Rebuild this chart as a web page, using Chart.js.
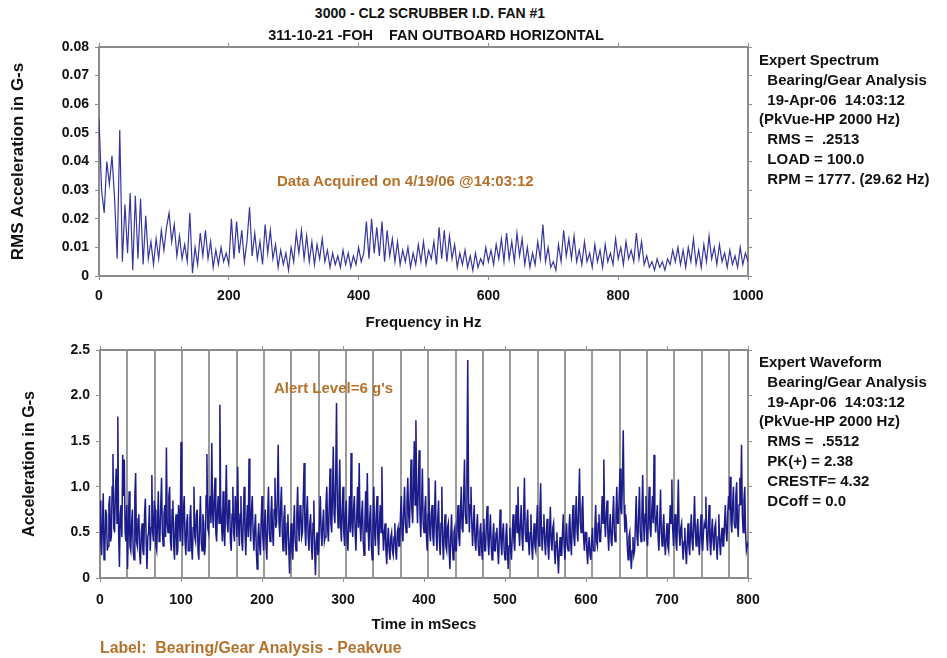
<!DOCTYPE html>
<html>
<head>
<meta charset="utf-8">
<script src="https://cdn.jsdelivr.net/npm/chart.js@4"></script>
<style>
  html, body { margin: 0; padding: 0; background: #fff; }
  #wrap { position: relative; width: 947px; height: 658px; overflow: hidden; background: #fff;
          font-family: "Liberation Sans", Arial, sans-serif; font-weight: bold; color: #111; }
  canvas { position: absolute; left: 0; }
  .t { position: absolute; white-space: pre; font-size: 15px; line-height: 18px; }
  .c { transform: translate(-50%, -50%); }
  .m { transform: translateY(-50%); }
  .or { color: #b5712a; }
</style>
</head>
<body>
<div id="wrap">
  <canvas id="c1" width="790" height="300" style="top:40px;"></canvas>
  <canvas id="c2" width="790" height="310" style="top:330px;"></canvas>
  <div class="t c" style="left:430px; top:13px; font-size:14px;">3000 - CL2 SCRUBBER I.D. FAN #1</div>
  <div class="t c" style="left:436px; top:35px; font-size:14.5px;">311-10-21 -FOH    FAN OUTBOARD HORIZONTAL</div>
  <div class="t m or" style="left:277px; top:181px;">Data Acquired on 4/19/06 @14:03:12</div>
  <div class="t m or" style="left:274px; top:388px;">Alert Level=6 g's</div>
  <div class="t m or" style="left:100px; top:648px; font-size:15.8px;">Label:  Bearing/Gear Analysis - Peakvue</div>
  <div id="p1"></div>
  <div id="p2"></div>
</div>
<script>
// ---------- data ----------
const spectrumHzStep = 4;          // Hz between spectrum lines
const spectrumValues = [
 0.055,0.03,0.022,0.04,0.032,0.042,0.027,0.006,0.051,0.005,
 0.025,0.008,0.029,0.002,0.028,0.006,0.027,0.004,0.021,0.006,
 0.012,0.004,0.013,0.006,0.016,0.009,0.017,0.022,0.012,0.018,
 0.007,0.014,0.006,0.011,0.005,0.022,0.001,0.01,0.004,0.015,
 0.007,0.016,0.006,0.012,0.003,0.009,0.004,0.01,0.005,0.008,
 0.004,0.02,0.006,0.019,0.008,0.016,0.005,0.012,0.024,0.007,
 0.015,0.006,0.012,0.004,0.018,0.008,0.016,0.006,0.011,0.003,
 0.009,0.004,0.008,0.002,0.01,0.005,0.015,0.008,0.016,0.006,
 0.014,0.005,0.012,0.004,0.011,0.006,0.013,0.005,0.009,0.003,
 0.008,0.004,0.007,0.003,0.009,0.004,0.008,0.003,0.007,0.004,
 0.01,0.005,0.008,0.019,0.006,0.02,0.008,0.017,0.007,0.019,
 0.005,0.016,0.007,0.013,0.005,0.012,0.004,0.009,0.005,0.01,
 0.003,0.008,0.004,0.011,0.005,0.012,0.004,0.009,0.006,0.012,
 0.004,0.017,0.006,0.016,0.005,0.014,0.006,0.011,0.003,0.008,
 0.004,0.009,0.003,0.007,0.002,0.008,0.003,0.006,0.004,0.01,
 0.005,0.009,0.004,0.011,0.006,0.013,0.005,0.015,0.006,0.012,
 0.005,0.015,0.007,0.013,0.004,0.01,0.003,0.008,0.004,0.012,
 0.006,0.018,0.005,0.01,0.003,0.005,0.002,0.011,0.005,0.016,
 0.007,0.013,0.006,0.014,0.005,0.009,0.004,0.012,0.005,0.008,
 0.003,0.011,0.005,0.009,0.003,0.011,0.005,0.008,0.004,0.013,
 0.006,0.01,0.004,0.012,0.006,0.009,0.005,0.015,0.006,0.012,
 0.004,0.007,0.003,0.005,0.002,0.006,0.003,0.005,0.002,0.006,
 0.004,0.009,0.005,0.01,0.004,0.009,0.003,0.01,0.005,0.013,
 0.004,0.009,0.003,0.011,0.005,0.014,0.006,0.01,0.004,0.011,
 0.005,0.008,0.003,0.009,0.004,0.007,0.003,0.01,0.004,0.008,
 0.005
];

const waveMsStep = 1;              // ms between waveform samples
const waveValues = [
 0.85,0.4,0.25,0.6,0.93,0.2,0.3,0.75,0.7,0.3,
 0.35,0.8,0.9,0.4,0.45,1.0,1.36,0.55,0.5,0.95,
 1.2,0.6,1.77,0.5,0.12,0.7,0.8,0.45,1.35,0.9,
 1.3,0.5,0.4,0.8,0.1,0.55,0.95,0.35,0.3,0.6,
 0.75,0.3,0.2,0.9,1.15,0.4,0.35,0.65,0.7,0.25,
 0.15,0.5,0.6,0.3,0.25,0.7,0.87,0.4,0.1,0.45,
 0.5,0.8,0.3,0.55,1.13,0.5,0.4,0.85,0.75,0.35,
 0.3,0.6,0.95,0.4,0.45,0.8,1.1,0.5,0.35,0.7,
 0.8,0.45,1.43,0.6,0.5,0.9,1.0,0.4,0.3,0.75,
 0.85,0.35,0.2,0.6,0.7,0.25,0.3,0.8,0.65,0.4,
 1.49,0.6,0.35,0.75,0.9,0.4,0.25,0.6,0.7,0.3,
 0.3,0.65,0.8,0.35,0.2,0.55,1.0,0.45,0.4,0.7,
 0.75,0.3,0.2,0.6,0.9,0.4,0.3,0.7,0.6,0.25,
 0.35,0.9,1.36,0.55,0.5,0.8,0.9,0.6,1.48,0.7,
 0.55,0.9,1.1,0.5,0.4,0.75,0.9,0.6,1.9,0.8,
 0.6,0.4,0.95,0.5,0.35,0.8,1.24,0.6,0.5,0.85,
 0.85,0.4,0.3,0.7,1.0,0.5,0.4,0.9,0.75,0.45,
 1.22,0.6,0.35,0.7,0.9,0.4,0.3,0.65,1.0,0.5,
 0.25,0.6,0.8,0.45,1.31,0.6,0.4,0.75,0.9,0.5,
 0.3,0.55,0.7,0.3,0.1,0.45,0.6,0.35,0.25,0.65,
 0.9,0.45,0.3,0.6,0.75,0.35,0.2,0.7,1.0,0.5,
 0.4,0.7,0.9,0.5,0.35,0.75,1.1,0.55,0.6,0.9,
 1.46,0.6,0.45,0.8,1.0,0.5,0.3,0.65,0.8,0.4,
 0.25,0.6,0.7,0.35,0.05,0.4,0.6,0.3,0.2,0.55,
 0.8,0.4,0.3,0.7,1.0,0.55,0.4,0.8,0.75,0.45,
 0.5,0.9,1.26,0.55,0.35,0.7,0.9,0.45,0.3,0.6,
 0.7,0.35,0.2,0.6,0.85,0.3,0.03,0.4,0.5,0.25,
 0.3,0.65,0.9,0.5,0.35,0.6,0.75,0.4,0.45,0.8,
 1.0,0.55,0.4,0.8,1.2,0.6,0.5,0.9,1.44,0.7,
 0.6,1.1,1.92,0.8,0.55,0.9,1.3,0.6,0.4,0.75,
 1.0,0.5,0.35,0.7,0.85,0.4,0.3,0.6,0.9,0.5,
 1.37,0.6,0.45,0.75,0.9,0.5,0.3,0.7,1.0,0.55,
 1.26,0.6,0.4,0.7,0.85,0.4,0.25,0.6,0.95,0.5,
 1.15,0.55,0.3,0.65,0.8,0.35,0.2,0.6,1.0,0.5,
 0.35,0.7,0.9,0.45,0.25,0.6,0.8,0.5,1.22,0.55,
 0.3,0.5,0.6,0.3,0.15,0.4,0.55,0.3,0.2,0.45,
 0.5,0.3,0.25,0.45,0.6,0.3,0.2,0.5,0.55,0.35,
 0.35,0.7,0.9,0.5,0.4,0.75,1.0,0.6,0.5,0.85,
 1.1,0.7,0.55,0.9,1.3,0.75,0.6,1.0,1.5,0.8,
 1.73,0.9,0.6,1.0,1.4,0.7,0.45,0.8,1.2,0.6,
 0.5,0.75,0.9,0.45,0.3,0.7,1.1,0.5,0.4,0.7,
 0.8,0.45,0.35,0.7,1.07,0.5,0.3,0.65,0.85,0.4,
 0.25,0.6,1.0,0.4,0.2,0.5,0.7,0.35,0.3,0.55,
 0.6,0.3,0.1,0.45,0.7,0.35,0.2,0.5,0.55,0.3,
 0.3,0.6,0.8,0.45,0.35,0.7,1.0,0.55,0.5,0.9,
 1.3,0.7,0.6,1.2,2.39,0.9,0.5,0.8,1.0,0.6,
 0.35,0.6,0.8,0.4,0.3,0.55,0.7,0.35,0.25,0.5,
 0.6,0.35,0.2,0.5,0.65,0.3,0.3,0.6,0.79,0.4,
 0.25,0.5,0.7,0.35,0.2,0.45,0.6,0.3,0.3,0.5,
 0.55,0.3,0.15,0.45,0.75,0.4,0.25,0.5,0.6,0.3,
 0.2,0.45,0.6,0.3,0.1,0.35,0.55,0.3,0.2,0.5,
 0.7,0.4,0.3,0.6,0.8,0.5,1.0,0.55,0.35,0.6,
 0.8,0.45,0.3,0.7,1.1,0.5,0.4,0.6,0.75,0.4,
 0.25,0.5,0.7,0.35,0.2,0.45,0.6,0.35,0.3,0.55,
 0.8,0.45,0.35,0.7,1.04,0.5,0.3,0.55,0.7,0.4,
 0.25,0.5,0.65,0.35,0.2,0.5,0.78,0.4,0.3,0.55,
 0.6,0.3,0.15,0.4,0.5,0.25,0.05,0.3,0.45,0.25,
 0.25,0.5,0.7,0.35,0.2,0.45,0.6,0.35,0.3,0.55,
 0.7,0.4,0.25,0.6,0.8,0.45,0.35,0.65,0.9,0.5,
 0.4,0.8,1.2,0.6,0.5,0.75,0.9,0.45,0.3,0.5,
 0.5,0.3,0.15,0.35,0.45,0.25,0.2,0.4,0.55,0.3,
 0.3,0.55,0.8,0.4,0.35,0.6,0.7,0.4,0.4,0.65,
 0.9,0.6,1.3,0.65,0.45,0.7,0.85,0.5,0.3,0.55,
 0.7,0.4,0.35,0.65,0.9,0.5,0.4,0.7,1.0,0.6,
 0.6,0.9,1.2,0.75,0.7,1.1,1.62,0.8,0.5,0.7,
 0.6,0.35,0.2,0.45,0.5,0.25,0.1,0.3,0.45,0.25,
 0.3,0.6,0.9,0.45,0.35,0.7,1.0,0.5,0.4,0.7,
 1.13,0.6,0.4,0.7,0.9,0.45,0.35,0.65,1.0,0.55,
 0.45,0.7,0.9,0.6,1.35,0.7,0.5,0.65,0.8,0.45,
 0.3,0.6,0.97,0.5,0.35,0.55,0.7,0.4,0.25,0.45,
 0.6,0.35,0.3,0.55,0.8,0.6,1.08,0.55,0.35,0.6,
 0.7,0.4,0.3,0.65,1.08,0.5,0.35,0.55,0.6,0.35,
 0.2,0.4,0.55,0.3,0.15,0.4,0.6,0.35,0.25,0.5,
 0.7,0.4,0.3,0.6,0.9,0.5,0.35,0.55,0.65,0.4,
 0.25,0.5,0.7,0.4,0.3,0.5,0.6,0.55,0.89,0.45,
 0.3,0.55,0.8,0.4,0.25,0.5,0.65,0.4,0.3,0.55,
 0.6,0.35,0.2,0.45,0.7,0.4,0.25,0.45,0.55,0.35,
 0.35,0.6,0.8,0.5,0.4,0.7,0.9,0.75,1.11,0.6,
 0.5,0.8,1.0,0.6,0.55,0.9,1.05,0.6,0.45,0.8,
 1.1,0.8,1.46,0.7,0.5,0.85,1.0,0.5,0.3,0.35,
 0.4
];

const rpmHz = 29.62;               // running speed, markers every revolution
const spectrumYTicks = [0, 0.01, 0.02, 0.03, 0.04, 0.05, 0.06, 0.07, 0.08];
const spectrumXTicks = [0, 200, 400, 600, 800, 1000];
const waveYTicks = [0, 0.5, 1.0, 1.5, 2.0, 2.5];
const waveXTicks = [0, 100, 200, 300, 400, 500, 600, 700, 800];

const spectrumInfo = [
  "Expert Spectrum",
  "  Bearing/Gear Analysis",
  "  19-Apr-06  14:03:12",
  "(PkVue-HP 2000 Hz)",
  "  RMS =  .2513",
  "  LOAD = 100.0",
  "  RPM = 1777. (29.62 Hz)"
];
const waveInfo = [
  "Expert Waveform",
  "  Bearing/Gear Analysis",
  "  19-Apr-06  14:03:12",
  "(PkVue-HP 2000 Hz)",
  "  RMS =  .5512",
  "  PK(+) = 2.38",
  "  CRESTF= 4.32",
  "  DCoff = 0.0"
];

// ---------- side panels ----------
function panel(id, lines, top) {
  const el = document.getElementById(id);
  lines.forEach((s, i) => {
    const d = document.createElement('div');
    d.className = 't m';
    d.style.left = '759px';
    d.style.top = (top + i * 19.8) + 'px';
    d.textContent = s;
    el.appendChild(d);
  });
}
panel('p1', spectrumInfo, 60);
panel('p2', waveInfo, 362);

// ---------- charts ----------
const FAM = '"Liberation Sans", Arial, sans-serif';
const TICKFONT = { family: FAM, size: 14, weight: 'bold' };
const XTITLEFONT = { family: FAM, size: 15, weight: 'bold' };
const FRAME = '#8c8c8c';

function fixedTicks(list) {
  return s => { s.ticks = list.map(v => ({ value: v })); };
}
function fitBox(w, h) {
  return s => {
    if (w !== null) s.width = w;
    if (h !== null) s.height = h;
    s.paddingLeft = 0; s.paddingRight = 0; s.paddingTop = 0; s.paddingBottom = 0;
  };
}
function axisBase(extra) {
  return Object.assign({
    type: 'linear',
    border: { display: true, color: FRAME, width: 2 },
    grid: { drawOnChartArea: false, color: FRAME, tickLength: 4, lineWidth: 1 },
  }, extra);
}

const spectrumData = spectrumValues.map((v, i) => ({ x: i * spectrumHzStep, y: v }));
const waveData = waveValues.map((v, i) => ({ x: i * waveMsStep, y: v }));
const periodMs = 1000 / rpmHz;
const markers = [];
for (let t = periodMs; t < 800; t += periodMs) markers.push(t);

new Chart(document.getElementById('c1'), {
  type: 'line',
  data: { datasets: [{ data: spectrumData, borderColor: '#36369e', borderWidth: 1.2,
                       pointRadius: 0, tension: 0, xAxisID: 'x', yAxisID: 'y' }] },
  options: {
    responsive: false, animation: false, devicePixelRatio: 1,
    plugins: { legend: { display: false }, tooltip: { enabled: false } },
    layout: { padding: 0 },
    scales: {
      x: axisBase({ position: 'bottom', min: 0, max: 1000,
        afterBuildTicks: fixedTicks(spectrumXTicks),
        ticks: { font: TICKFONT, color: '#111', padding: 8, maxRotation: 0, callback: v => String(v) },
        title: { display: true, text: 'Frequency in Hz', font: XTITLEFONT, color: '#111', padding: { top: 0, bottom: 8 } },
        afterFit: fitBox(null, 64) }),
      xTop: axisBase({ position: 'top', min: 0, max: 1000,
        afterBuildTicks: fixedTicks(spectrumXTicks),
        ticks: { display: false },
        afterFit: fitBox(null, 7) }),
      y: axisBase({ position: 'left', min: 0, max: 0.08,
        afterBuildTicks: fixedTicks(spectrumYTicks),
        ticks: { font: TICKFONT, color: '#111', padding: 6,
                 callback: v => v === 0 ? '0' : v.toFixed(2) },
        title: { display: true, text: 'RMS Acceleration in G-s', font: { family: FAM, size: 17, weight: 'bold' },
                 color: '#111', padding: { top: 8, bottom: 0 } },
        afterFit: fitBox(99, null) }),
      yRight: axisBase({ position: 'right', min: 0, max: 0.08,
        afterBuildTicks: fixedTicks(spectrumYTicks),
        ticks: { display: false },
        afterFit: fitBox(42, null) })
    }
  }
});

new Chart(document.getElementById('c2'), {
  type: 'line',
  data: { datasets: [{ data: waveData, borderColor: '#1b1b8a', borderWidth: 1.5,
                       pointRadius: 0, tension: 0, xAxisID: 'x', yAxisID: 'y' }] },
  options: {
    responsive: false, animation: false, devicePixelRatio: 1,
    plugins: { legend: { display: false }, tooltip: { enabled: false } },
    layout: { padding: 0 },
    scales: {
      x: axisBase({ position: 'bottom', min: 0, max: 800,
        afterBuildTicks: fixedTicks(waveXTicks),
        ticks: { font: TICKFONT, color: '#111', padding: 10, maxRotation: 0, callback: v => String(v) },
        title: { display: true, text: 'Time in mSecs', font: XTITLEFONT, color: '#111', padding: { top: 0, bottom: 6 } },
        afterFit: fitBox(null, 62) }),
      xTop: axisBase({ position: 'top', min: 0, max: 800,
        afterBuildTicks: fixedTicks(waveXTicks),
        ticks: { display: false },
        afterFit: fitBox(null, 20) }),
      xMarks: { type: 'linear', position: 'top', min: 0, max: 800,
        afterBuildTicks: fixedTicks(markers),
        border: { display: false },
        ticks: { display: false },
        grid: { drawOnChartArea: true, drawTicks: false, color: '#9a9a9a', lineWidth: 2 },
        afterFit: fitBox(null, 0) },
      y: axisBase({ position: 'left', min: 0, max: 2.5,
        afterBuildTicks: fixedTicks(waveYTicks),
        ticks: { font: TICKFONT, color: '#111', padding: 6,
                 callback: v => v === 0 ? '0' : v.toFixed(1) },
        title: { display: true, text: 'Acceleration in G-s', font: { family: FAM, size: 16, weight: 'bold' },
                 color: '#111', padding: { top: 20, bottom: 0 } },
        afterFit: fitBox(100, null) }),
      yRight: axisBase({ position: 'right', min: 0, max: 2.5,
        afterBuildTicks: fixedTicks(waveYTicks),
        ticks: { display: false },
        afterFit: fitBox(42, null) })
    }
  }
});
</script>
</body>
</html>
